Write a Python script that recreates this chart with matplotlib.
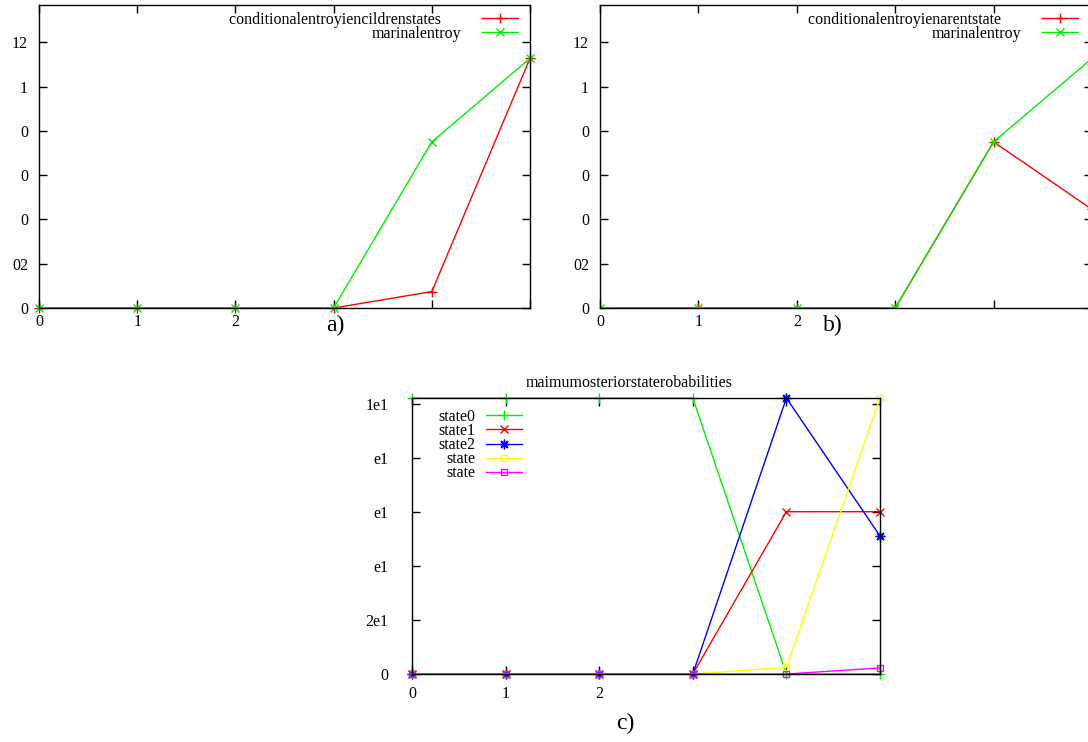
import matplotlib
matplotlib.use("Agg")
import matplotlib.pyplot as plt

plt.rcParams['font.family'] = ['Liberation Serif', 'DejaVu Serif']

# x positions shared by all three panels
steps = [0, 1, 2, 3, 4, 5]
step_labels = ['0', '1', '2', '', '', '']

# panel a) and b)
marginal_entropy = [0, 0, 0, 0, 0.75, 1.127]
cond_children = [0, 0, 0, 0, 0.074, 1.127]
cond_parent = [0, 0, 0, 0, 0.75, 0.445]
entropy_yticks = [0, 0.2, 0.4, 0.6, 0.8, 1.0, 1.2]
entropy_ylabels = ['0', '02', '0', '0', '0', '1', '12']

# panel c)
state_names = ['state0', 'state1', 'state2', 'state', 'state']
state0 = [1, 1, 1, 1, 0, 0]
state1 = [0, 0, 0, 0, 0.588, 0.588]
state2 = [0, 0, 0, 0, 1, 0.50]
state3 = [0, 0, 0, 0, 0.024, 1]
state4 = [0, 0, 0, 0, 0, 0.022]
prob_yticks = [0, 0.196, 0.391, 0.587, 0.783, 0.978]
prob_ylabels = ['0', '2e1', 'e1', 'e1', 'e1', '1e1']

W, H = 1088, 742
FS = 11.5
fig = plt.figure(figsize=(W / 100, H / 100), dpi=100)


def px_axes(left, top, right, bottom):
    # axes box given in pixel coords of the picture (origin top-left)
    return fig.add_axes([left / W, 1 - bottom / H, (right - left) / W, (bottom - top) / H])


def gnuplot_style(ax, xpad=4, ypad=8):
    for s in ax.spines.values():
        s.set_linewidth(1.0)
        s.set_color('black')
    ax.tick_params(direction='in', length=5.5, width=1, top=True, right=True,
                   labelsize=FS)
    ax.tick_params(axis='x', pad=xpad)
    ax.tick_params(axis='y', pad=ypad)
    ax.set_xticks(steps)
    ax.set_xticklabels(step_labels)
    ax.set_xlim(0, 5)


RED = '#ff0000'
GREEN = '#00ee00'
BLUE = '#0000ff'
YELLOW = '#ffff00'
MAGENTA = '#ff00ff'

leg_kw = dict(markerfirst=False, frameon=False, fontsize=FS, handlelength=2.25,
              borderaxespad=0, borderpad=0, labelspacing=-0.12)

# ---- a) ----
ax_a = px_axes(39, 5, 530, 308)
gnuplot_style(ax_a)
ax_a.plot(steps, cond_children, color=RED, lw=1, marker='+', ms=7, mew=1,
          clip_on=False, label='conditionalentroyiencildrenstates     ')
ax_a.plot(steps, marginal_entropy, color=GREEN, lw=1, marker='x', ms=6, mew=1,
          clip_on=False, label='marinalentroy')
ax_a.set_ylim(0, 1.368)
ax_a.set_yticks(entropy_yticks)
ax_a.set_yticklabels(entropy_ylabels)
ax_a.legend(loc='upper right', bbox_to_anchor=(1 - 12 / 491, 1 - 7 / 303),
            handletextpad=1.3, **leg_kw)

# ---- b) (right side runs off the picture, as in the original) ----
ax_b = px_axes(600, 5, 1092, 308)
gnuplot_style(ax_b)
ax_b.plot(steps, cond_parent, color=RED, lw=1, marker='+', ms=7, mew=1,
          label='conditionalentroyienarentstate     ')
ax_b.plot(steps, marginal_entropy, color=GREEN, lw=1, marker='x', ms=6, mew=1,
          label='marinalentroy')
ax_b.set_ylim(0, 1.368)
ax_b.set_yticks(entropy_yticks)
ax_b.set_yticklabels(entropy_ylabels)
ax_b.legend(loc='upper right', bbox_to_anchor=(1 - 14 / 492, 1 - 7 / 303),
            handletextpad=1.3, **leg_kw)

# ---- c) ----
ax_c = px_axes(412, 398, 880, 674)
gnuplot_style(ax_c, xpad=8.5, ypad=17)
ax_c.plot(steps, state0, color=GREEN, lw=1, marker='+', ms=7, mew=1,
          clip_on=False, label=state_names[0])
ax_c.plot(steps, state1, color=RED, lw=1, marker='x', ms=6, mew=1,
          clip_on=False, label=state_names[1])
ax_c.plot(steps, state2, color=BLUE, lw=1, marker=(8, 2, 0), ms=7, mew=1,
          clip_on=False, label=state_names[2])
ax_c.plot(steps, state3, color=YELLOW, lw=1, marker='s', ms=5, mew=1, mfc='none',
          clip_on=False, label=state_names[3])
ax_c.plot(steps, state4, color=MAGENTA, lw=1, marker='s', ms=5, mew=1, mfc='none',
          clip_on=False, label=state_names[4])
ax_c.set_ylim(0, 1.0)
ax_c.set_yticks(prob_yticks)
ax_c.set_yticklabels(prob_ylabels)
ax_c.set_title('maimumosteriorstaterobabilities', fontsize=FS, pad=8,
               x=(629 - 412) / 468)
ax_c.legend(loc='upper left', bbox_to_anchor=(26 / 468, 1 - 11 / 276),
            handletextpad=0.7, **leg_kw)

# panel captions
fig.text(335 / W, 1 - 325 / H, 'a)', fontsize=17, ha='center', va='center')
fig.text(833 / W, 1 - 325 / H, 'b)', fontsize=17, ha='center', va='center')
fig.text(625 / W, 1 - 723 / H, 'c)', fontsize=17, ha='center', va='center')

fig.savefig('out.png', dpi=100)
